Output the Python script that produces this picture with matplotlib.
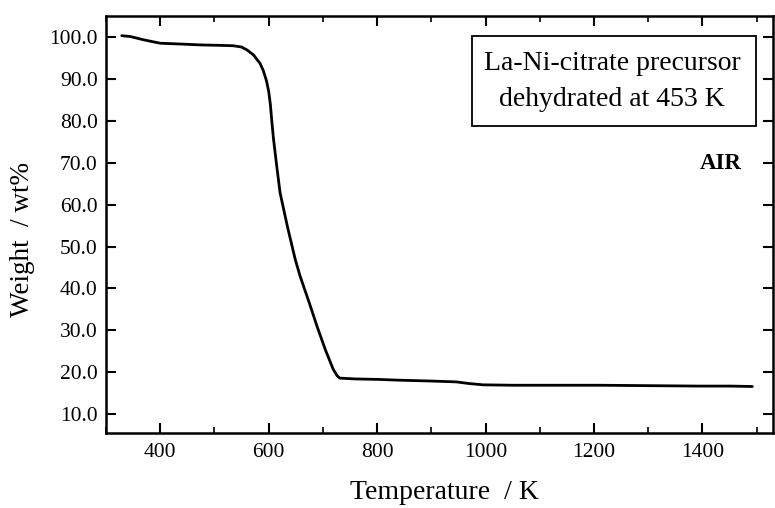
import matplotlib
matplotlib.use("Agg")
import matplotlib.pyplot as plt
from matplotlib.ticker import MultipleLocator, FormatStrFormatter
from matplotlib.patches import Rectangle

temperature = [329, 345, 370, 400, 440, 474, 510, 535, 550, 560, 572, 584, 590, 596, 600, 603,
               606, 609, 615, 621, 635, 649, 658, 675, 689, 705, 719, 726, 731, 760, 800, 842,
               900, 946, 970, 995, 1050, 1100, 1210, 1300, 1394, 1450, 1492]
weight = [100.3, 100.1, 99.3, 98.5, 98.3, 98.1, 98.0, 97.9, 97.6, 96.9, 95.7, 93.7, 92.0, 89.5,
          87.0, 84.0, 79.5, 75.5, 69.0, 62.8, 54.5, 46.9, 42.9, 36.5, 31.0, 25.2, 20.7, 19.2,
          18.6, 18.4, 18.3, 18.1, 17.9, 17.7, 17.3, 17.0, 16.9, 16.9, 16.9, 16.8, 16.7, 16.7, 16.6]

x_major = [400, 600, 800, 1000, 1200, 1400]
y_major = [10, 20, 30, 40, 50, 60, 70, 80, 90, 100]

plt.rcParams['font.family'] = ['Liberation Serif', 'DejaVu Serif']

fig = plt.figure(figsize=(7.75, 5.08), dpi=100)
ax = fig.add_axes([0.1368, 0.1476, 0.8606, 0.8209])

ax.plot(temperature, weight, color='black', lw=2.0, solid_capstyle='round',
        solid_joinstyle='round')

ax.set_xlim(300, 1530)
ax.set_ylim(5.5, 105)
ax.set_xticks(x_major)
ax.xaxis.set_minor_locator(MultipleLocator(100))
ax.set_yticks(y_major)
ax.yaxis.set_major_formatter(FormatStrFormatter('%.1f'))

ax.tick_params(axis='both', which='major', direction='in', top=True, right=True,
               length=7, width=1.5, labelsize=15.5, pad=7)
ax.tick_params(axis='both', which='minor', direction='in', top=True, right=True,
               length=4, width=1.2)
ax.tick_params(axis='y', which='major', pad=6)
for s in ax.spines.values():
    s.set_linewidth(1.8)

ax.set_xlabel('Temperature  / K', fontsize=20)
ax.xaxis.set_label_coords(0.508, -0.113)
ax.set_ylabel('Weight  / wt%', fontsize=19.5)
ax.yaxis.set_label_coords(-0.107, 0.463)

ax.add_patch(Rectangle((0.549, 0.736), 0.4255, 0.216, transform=ax.transAxes,
                       facecolor='white', edgecolor='black', linewidth=1.3, zorder=3))
ax.text(0.759, 0.887, 'La-Ni-citrate precursor', transform=ax.transAxes,
        ha='center', va='center', fontsize=20, zorder=4)
ax.text(0.759, 0.799, 'dehydrated at 453 K', transform=ax.transAxes,
        ha='center', va='center', fontsize=20, zorder=4)
ax.text(0.953, 0.647, 'AIR', transform=ax.transAxes, ha='right', va='center',
        fontsize=16.5, fontweight='bold')

fig.savefig('out.png', dpi=100)
